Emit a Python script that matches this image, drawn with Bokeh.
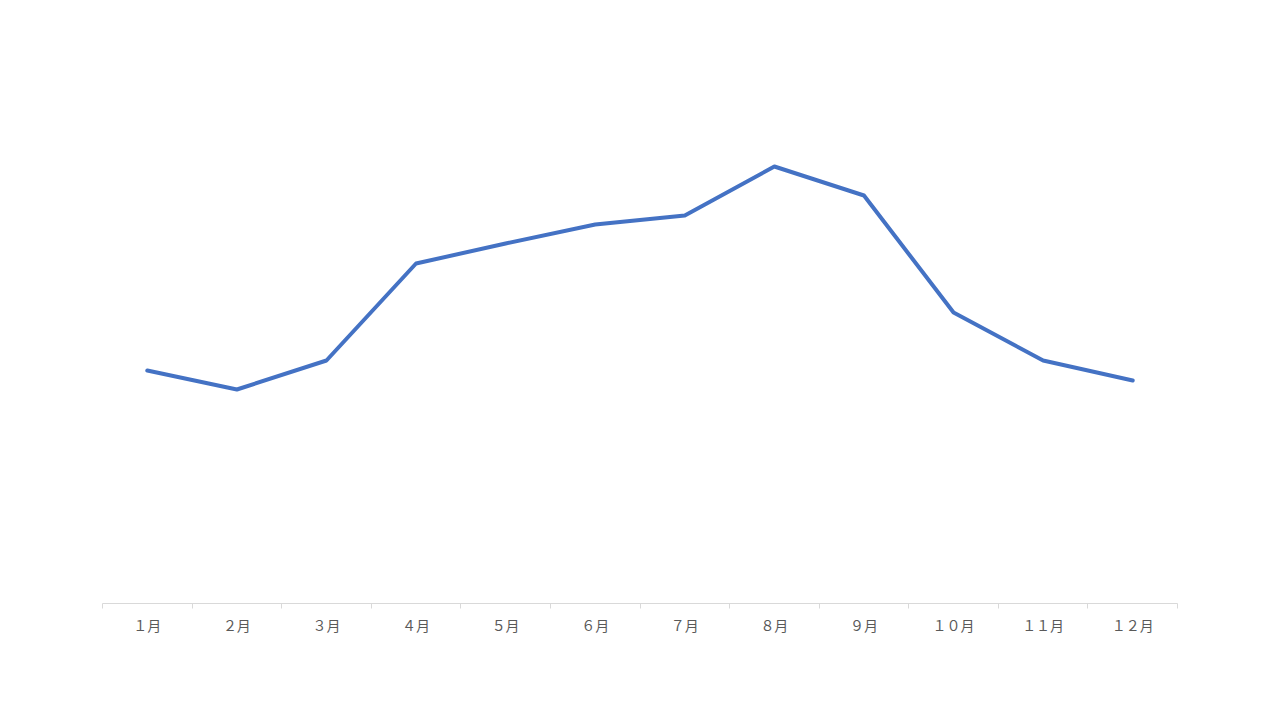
from bokeh.plotting import figure
from bokeh.models import Range1d, FixedTicker, LinearAxis
from bokeh.embed import file_html
from bokeh.resources import INLINE

months = ["１月", "２月", "３月", "４月", "５月", "６月", "７月", "８月", "９月", "１０月", "１１月", "１２月"]
values = [233, 214, 243, 340, 360, 379, 388, 437, 408, 291, 243, 223]

x = list(range(1, len(months) + 1))

p = figure(width=1264, height=704, output_backend="svg", toolbar_location=None,
           x_range=Range1d(0.5, len(months) + 0.5), y_range=Range1d(0, 595),
           x_axis_type=None, y_axis_type=None,
           min_border_left=102, min_border_right=87, min_border_top=8, min_border_bottom=101)
p.outline_line_color = None
p.xgrid.visible = False
p.ygrid.visible = False
p.background_fill_color = "white"
p.border_fill_color = "white"

ax = LinearAxis()
ax.ticker = FixedTicker(ticks=x, minor_ticks=[i + 0.5 for i in range(0, len(months) + 1)])
ax.major_label_overrides = {i: m for i, m in zip(x, months)}
ax.axis_line_color = "#D9D9D9"
ax.axis_line_width = 1
ax.major_tick_line_color = None
ax.major_tick_out = 0
ax.major_tick_in = 0
ax.minor_tick_line_color = "#D9D9D9"
ax.minor_tick_out = 5
ax.minor_tick_in = 0
ax.major_label_standoff = 6
ax.major_label_text_font = "Noto Sans CJK JP"
ax.major_label_text_font_size = "14px"
ax.major_label_text_color = "#595959"
p.add_layout(ax, "below")

p.line(x, values, line_color="#4472C4", line_width=4, line_join="round", line_cap="round")

open("out.html", "w").write(file_html(p, INLINE))
